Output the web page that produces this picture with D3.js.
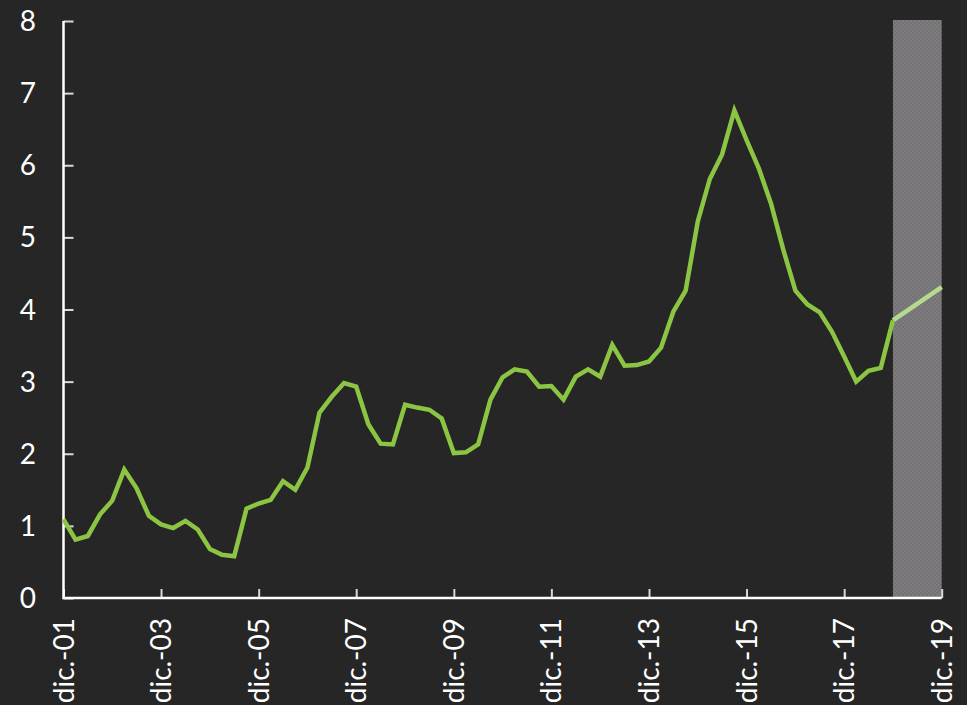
<!DOCTYPE html>
<html>
<head>
<meta charset="utf-8">
<script src="https://cdn.jsdelivr.net/npm/d3@7"></script>
<style>
  html, body { margin: 0; padding: 0; background: #262626; }
  svg { display: block; }
</style>
</head>
<body>
<svg id="chart" width="967" height="705"></svg>
<script>
// Quarterly observations, Dec 2001 – Dec 2018
const startYear = 2001;
const quarterValues = [
  1.09,
  0.81, 0.86, 1.16, 1.35,
  1.78, 1.52, 1.14, 1.02,
  0.97, 1.07, 0.95, 0.68,
  0.60, 0.58, 1.24, 1.31,
  1.36, 1.62, 1.50, 1.81,
  2.57, 2.79, 2.98, 2.93,
  2.41, 2.14, 2.13, 2.68,
  2.64, 2.61, 2.49, 2.01,
  2.02, 2.13, 2.75, 3.06,
  3.17, 3.14, 2.93, 2.94,
  2.75, 3.07, 3.17, 3.07,
  3.51, 3.22, 3.23, 3.28,
  3.47, 3.97, 4.26, 5.22,
  5.81, 6.15, 6.76, 6.35,
  5.96, 5.47, 4.83, 4.26,
  4.07, 3.96, 3.69, 3.35,
  3.00, 3.15, 3.19, 3.85
];
// Projection: Dec 2018 -> Dec 2019
const forecastDates = ["2018-12", "2019-12"];
const forecastValues = [3.85, 4.31];
// Shaded projection window
const shadeRange = ["2018-12", "2019-12"];
const yTicks = [0, 1, 2, 3, 4, 5, 6, 7, 8];
const xTickYears = [2001, 2003, 2005, 2007, 2009, 2011, 2013, 2015, 2017, 2019];
const monthLabel = "dic.";

const parseYM = d3.timeParse("%Y-%m");
const history = quarterValues.map((v, i) => ({
  date: new Date(startYear, 11 + 3 * i, 1),
  value: v
}));
const forecast = forecastDates.map((d, i) => ({ date: parseYM(d), value: forecastValues[i] }));

const svg = d3.select("#chart");
const margin = { left: 63.5, right: 25.3, top: 21, bottom: 107 };
const W = 967, H = 705;

const x = d3.scaleTime()
  .domain([new Date(2001, 11, 1), new Date(2019, 11, 1)])
  .range([margin.left, W - margin.right]);
const y = d3.scaleLinear()
  .domain([0, 8])
  .range([H - margin.bottom, margin.top]);

// checkered fill for the projection band
const defs = svg.append("defs");
const pat = defs.append("pattern")
  .attr("id", "checker")
  .attr("width", 4).attr("height", 4)
  .attr("patternUnits", "userSpaceOnUse");
pat.append("rect").attr("width", 4).attr("height", 4).attr("fill", "#7e7c7e");
pat.append("rect").attr("width", 2).attr("height", 2).attr("fill", "#747274");
pat.append("rect").attr("x", 2).attr("y", 2).attr("width", 2).attr("height", 2).attr("fill", "#747274");

svg.append("rect")
  .attr("x", x(parseYM(shadeRange[0])))
  .attr("y", y(8) - 1)
  .attr("width", x(parseYM(shadeRange[1])) - x(parseYM(shadeRange[0])))
  .attr("height", y(0) - y(8) + 1)
  .attr("fill", "url(#checker)");

const font = "Lato, 'Open Sans', sans-serif";
const fontSize = 28;

// y axis
const yAxis = svg.append("g")
  .attr("transform", `translate(${margin.left},0)`)
  .call(d3.axisRight(y).tickValues(yTicks).tickSize(10).tickFormat(""));
yAxis.select(".domain").remove();
yAxis.selectAll(".tick line").attr("stroke", "#d9d9d9").attr("stroke-width", 2);
svg.append("g")
  .selectAll("text")
  .data(yTicks)
  .join("text")
  .attr("x", 36)
  .attr("y", d => y(d))
  .attr("dy", "0.36em")
  .attr("text-anchor", "end")
  .attr("fill", "#ffffff")
  .attr("font-family", font)
  .attr("font-size", fontSize)
  .text(d => d);

// x axis
const xTicks = xTickYears.map(yr => new Date(yr, 11, 1));
const xAxis = svg.append("g")
  .attr("transform", `translate(0,${y(0)})`)
  .call(d3.axisTop(x).tickValues(xTicks).tickSize(9).tickFormat(""));
xAxis.select(".domain").remove();
xAxis.selectAll(".tick line").attr("stroke", "#d9d9d9").attr("stroke-width", 2);
svg.append("g")
  .selectAll("text")
  .data(xTicks)
  .join("text")
  .attr("transform", d => `translate(${x(d)},${y(0) + 20}) rotate(-90)`)
  .attr("dy", "0.36em")
  .attr("text-anchor", "end")
  .attr("fill", "#ffffff")
  .attr("font-family", font)
  .attr("font-size", fontSize)
  .text(d => `${monthLabel}-${d3.timeFormat("%y")(d)}`);

// axis lines
svg.append("path")
  .attr("d", `M${margin.left},${y(8)}V${y(0)}H${W - margin.right}`)
  .attr("fill", "none")
  .attr("stroke", "#ffffff")
  .attr("stroke-width", 2.5);

const line = d3.line().x(d => x(d.date)).y(d => y(d.value));

svg.append("path")
  .datum(forecast)
  .attr("d", line)
  .attr("fill", "none")
  .attr("stroke", "#b3dc8f")
  .attr("stroke-width", 4.5);

svg.append("path")
  .datum(history)
  .attr("d", line)
  .attr("fill", "none")
  .attr("stroke", "#8bc543")
  .attr("stroke-width", 4.5)
  .attr("stroke-linejoin", "miter");
</script>
</body>
</html>
